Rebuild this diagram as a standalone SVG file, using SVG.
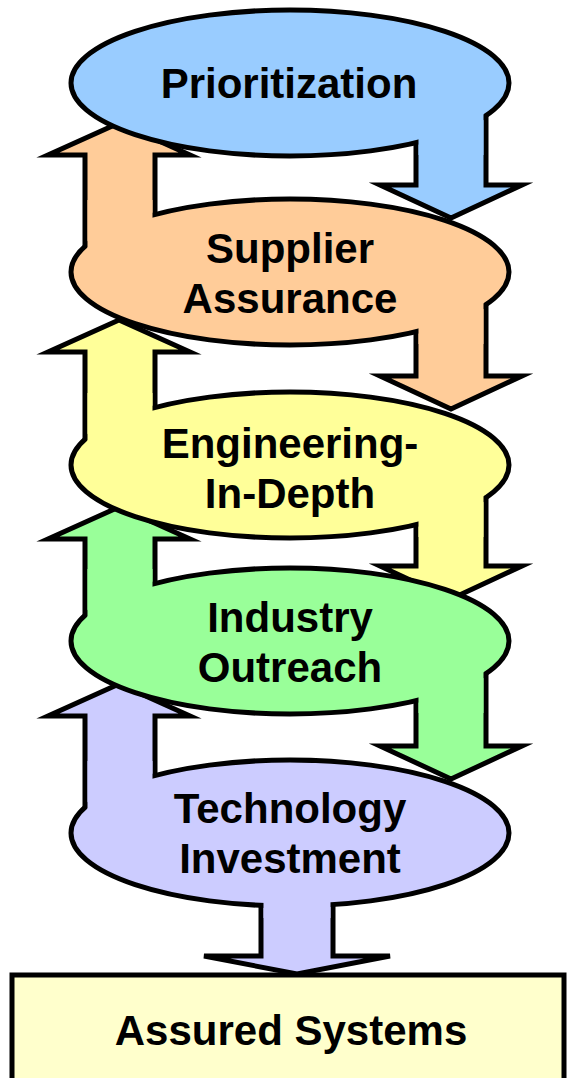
<svg xmlns="http://www.w3.org/2000/svg" width="568" height="1078" viewBox="0 0 568 1078">
  <style>
    .arrow { stroke: #000; stroke-width: 5; stroke-linejoin: miter; stroke-miterlimit: 10; }
    .oval { stroke: #000; stroke-width: 5; }
    .joint { stroke: none; }
    .label { font-family: "Liberation Sans", Arial, Helvetica, sans-serif; font-weight: bold; font-size: 42px; text-anchor: middle; fill: #000; }
    .blue { fill: #99CCFF; }
    .orange { fill: #FFCC99; }
    .yellow { fill: #FFFF99; }
    .green { fill: #99FF99; }
    .purple { fill: #CCCCFF; }
    .cream { fill: #FFFFCC; }
  </style>
  <rect width="568" height="1078" fill="#FFFFFF"/>

  <!-- block arrows: each stage feeds down on the right and back up on the left -->
  <g id="connectors">
    <path class="arrow blue" d="M416,93 H486 V185 H522 L451,218 L380,185 H416 Z"/>
    <path class="arrow orange" d="M85,262 V155 H48 L119,123 L190,155 H155 V262 Z"/>
    <path class="arrow orange" d="M416,282 H486 V376 H522 L451,409 L380,376 H416 Z"/>
    <path class="arrow yellow" d="M85,455 V352 H48 L119,320 L190,352 H155 V455 Z"/>
    <path class="arrow yellow" d="M416,475 H486 V566 H522 L451,599 L380,566 H416 Z"/>
    <path class="arrow green" d="M85,631 V539 H48 L119,507 L190,539 H155 V631 Z"/>
    <path class="arrow green" d="M416,651 H486 V746 H522 L451,779 L380,746 H416 Z"/>
    <path class="arrow purple" d="M85,823 V716 H48 L119,684 L190,716 H155 V823 Z"/>
    <path class="arrow purple" d="M261,843 H333 V956 H390 L297,974 L204,956 H261 Z"/>
  </g>

  <!-- stage ovals; the fill-only joints merge each oval with its own arrow shafts -->
  <g id="node-prioritization">
    <ellipse class="oval blue" cx="290" cy="83" rx="219" ry="73"/>
    <rect class="joint blue" x="418.5" y="93" width="65" height="62"/>
    <text class="label" x="289" y="98">Prioritization</text>
  </g>

  <g id="node-supplier-assurance">
    <ellipse class="oval orange" cx="290" cy="272" rx="219" ry="73"/>
    <rect class="joint orange" x="87.5" y="200" width="65" height="62"/>
    <rect class="joint orange" x="418.5" y="282" width="65" height="62"/>
    <text class="label" x="290" y="263">Supplier</text>
    <text class="label" x="290" y="313">Assurance</text>
  </g>

  <g id="node-engineering-in-depth">
    <ellipse class="oval yellow" cx="290" cy="465" rx="219" ry="73"/>
    <rect class="joint yellow" x="87.5" y="393" width="65" height="62"/>
    <rect class="joint yellow" x="418.5" y="475" width="65" height="62"/>
    <text class="label" x="290" y="458">Engineering-</text>
    <text class="label" x="290" y="508">In-Depth</text>
  </g>

  <g id="node-industry-outreach">
    <ellipse class="oval green" cx="290" cy="641" rx="219" ry="73"/>
    <rect class="joint green" x="87.5" y="569" width="65" height="62"/>
    <rect class="joint green" x="418.5" y="651" width="65" height="62"/>
    <text class="label" x="290" y="632">Industry</text>
    <text class="label" x="290" y="682">Outreach</text>
  </g>

  <g id="node-technology-investment">
    <ellipse class="oval purple" cx="290" cy="833" rx="219" ry="73"/>
    <rect class="joint purple" x="87.5" y="761" width="65" height="62"/>
    <rect class="joint purple" x="263.5" y="883" width="67" height="35"/>
    <text class="label" x="290" y="823">Technology</text>
    <text class="label" x="290" y="873">Investment</text>
  </g>

  <g id="node-assured-systems">
    <rect class="oval cream" x="12" y="975" width="552" height="115"/>
    <text class="label" x="291" y="1045">Assured Systems</text>
  </g>
</svg>
